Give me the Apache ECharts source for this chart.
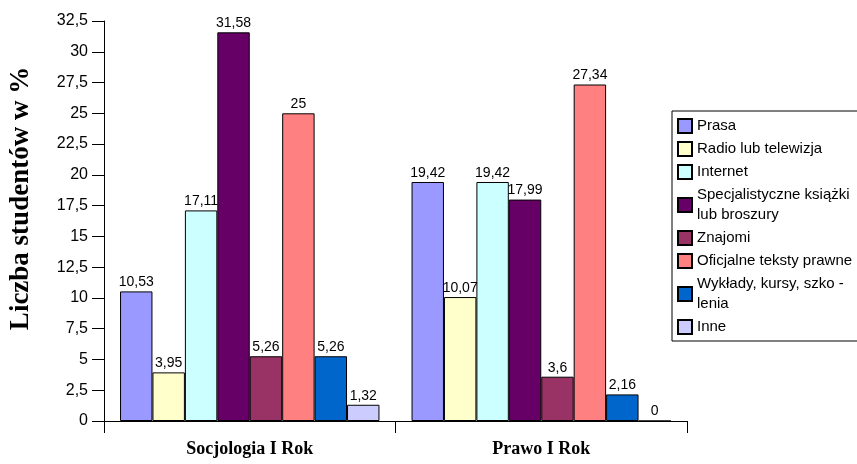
<!DOCTYPE html>
<html>
<head>
<meta charset="utf-8">
<script src="https://cdn.jsdelivr.net/npm/echarts@6/dist/echarts.min.js"></script>
<style>
html,body{margin:0;padding:0;background:#fff;}
#chart{width:857px;height:464px;}
</style>
</head>
<body>
<div id="chart"></div>
<script>
var categories = ['Socjologia I Rok', 'Prawo I Rok'];
var seriesNames = ['Prasa', 'Radio lub telewizja', 'Internet', 'Specjalistyczne książki\nlub broszury', 'Znajomi', 'Oficjalne teksty prawne', 'Wykłady, kursy, szko -\nlenia', 'Inne'];
var prasa = [10.53, 19.42];
var radio = [3.95, 10.07];
var internet = [17.11, 19.42];
var ksiazki = [31.58, 17.99];
var znajomi = [5.26, 3.6];
var oficjalne = [25, 27.34];
var wyklady = [5.26, 2.16];
var inne = [1.32, 0];
var seriesValues = [prasa, radio, internet, ksiazki, znajomi, oficjalne, wyklady, inne];
var colors = ['#9999FF', '#FFFFCC', '#CCFFFF', '#660066', '#993366', '#FF8080', '#0066CC', '#CCCCFF'];
var yTicks = {min: 0, max: 32.5, interval: 2.5};

function comma(v) { return String(v).replace('.', ','); }

var chart = echarts.init(document.getElementById('chart'), null, {renderer: 'canvas'});
var series = seriesNames.map(function (name, i) {
  return {
    name: name,
    type: 'bar',
    data: seriesValues[i],
    barGap: '0%',
    barCategoryGap: '11%',
    itemStyle: {color: colors[i], borderColor: '#000', borderWidth: 1},
    label: {
      show: true, position: 'top', distance: 2,
      fontFamily: 'Liberation Sans', fontSize: 14, color: '#000',
      formatter: function (p) { return comma(p.value); }
    }
  };
});

chart.setOption({
  animation: false,
  backgroundColor: '#fff',
  grid: {left: 103, right: 170, top: 21, bottom: 43, containLabel: false},
  legend: {
    orient: 'vertical',
    left: 672, top: 111,
    data: seriesNames,
    backgroundColor: '#fff',
    borderColor: '#000', borderWidth: 1,
    padding: [5, 10, 4, 5],
    itemWidth: 14, itemHeight: 14, itemGap: 3,
    icon: 'rect',
    textStyle: {fontFamily: 'Liberation Sans', fontSize: 15, color: '#000', lineHeight: 20}
  },
  xAxis: {
    type: 'category',
    data: categories,
    axisLine: {lineStyle: {color: '#000', width: 1}},
    axisTick: {show: true, length: 12, lineStyle: {color: '#000'}},
    axisLabel: {fontFamily: 'Liberation Serif', fontWeight: 'bold', fontSize: 18, color: '#000', margin: 19}
  },
  yAxis: {
    type: 'value',
    min: yTicks.min, max: yTicks.max, interval: yTicks.interval,
    name: 'Liczba studentów w %',
    nameLocation: 'middle', nameRotate: 90, nameGap: 69,
    nameTextStyle: {fontFamily: 'Liberation Serif', fontWeight: 'bold', fontSize: 27, color: '#000', padding: [0, 0, 0, 45]},
    axisLine: {show: true, lineStyle: {color: '#000', width: 1}},
    axisTick: {show: true, length: 12, lineStyle: {color: '#000'}},
    splitLine: {show: false},
    axisLabel: {fontFamily: 'Liberation Sans', fontSize: 16, color: '#000', margin: 16, formatter: function (v) { return comma(v); }}
  },
  series: series
});
</script>
</body>
</html>
